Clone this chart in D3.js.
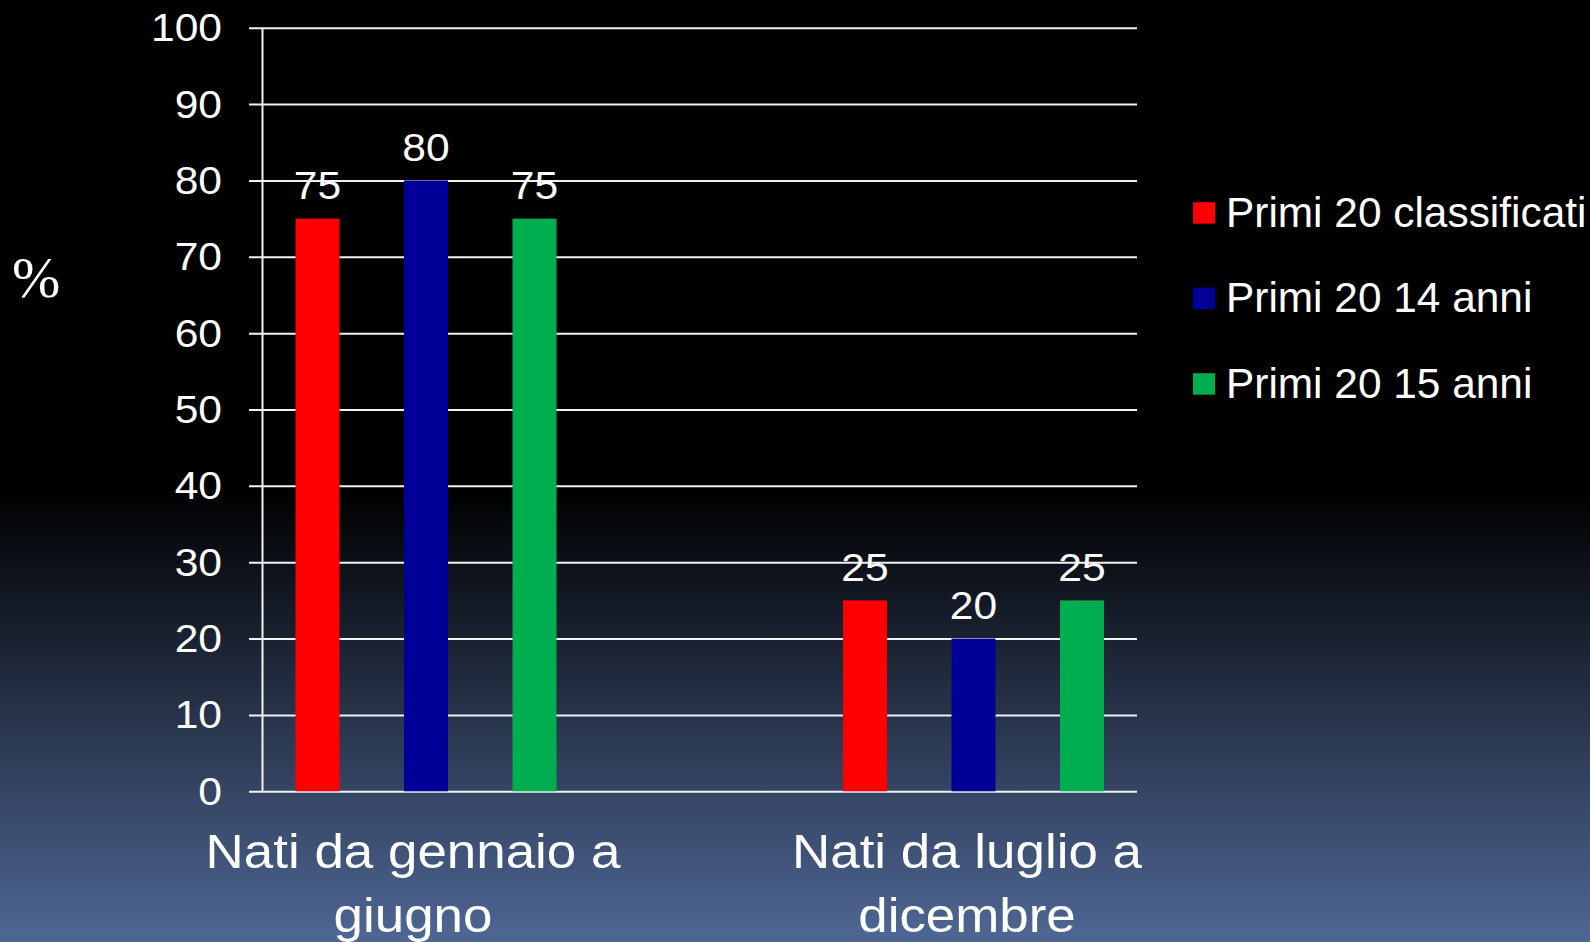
<!DOCTYPE html>
<html>
<head>
<meta charset="utf-8">
<script src="https://cdn.jsdelivr.net/npm/d3@7"></script>
<style>
  html, body { margin: 0; padding: 0; background: #000; }
  #chart { width: 1590px; height: 942px; }
  text { font-family: "Liberation Sans", Arial, sans-serif; fill: #fff; }
</style>
</head>
<body>
<div id="chart"></div>
<script>
// data
var categories = ["Nati da gennaio a giugno", "Nati da luglio a dicembre"];
var categoryLines = [["Nati da gennaio a", "giugno"], ["Nati da luglio a", "dicembre"]];
var seriesNames = ["Primi 20 classificati", "Primi 20 14 anni", "Primi 20 15 anni"];
var seriesColors = ["#ff0000", "#000099", "#00ad4f"];
var primiClassificati = [75, 25];
var primi14anni = [80, 20];
var primi15anni = [75, 25];
var yTicks = [0, 10, 20, 30, 40, 50, 60, 70, 80, 90, 100];

var seriesValues = [primiClassificati, primi14anni, primi15anni];

var W = 1590, H = 942;
var axisX = 262, plotRight = 1137;
var yTop = 27.7, yBottom = 791.3;

var svg = d3.select("#chart")
  .append("svg")
  .attr("width", W)
  .attr("height", H);

// background gradient, black on top fading to slate blue
var defs = svg.append("defs");
var grad = defs.append("linearGradient")
  .attr("id", "bg")
  .attr("x1", 0).attr("y1", 0)
  .attr("x2", 0).attr("y2", 1);
grad.append("stop").attr("offset", "0").attr("stop-color", "#000000");
grad.append("stop").attr("offset", "0.52").attr("stop-color", "#000000");
grad.append("stop").attr("offset", "1").attr("stop-color", "#4f6795");

svg.append("rect")
  .attr("width", W)
  .attr("height", H)
  .attr("fill", "url(#bg)");

var y = d3.scaleLinear()
  .domain([0, 100])
  .range([yBottom, yTop]);

// group centres sit at 426 and 973.5
var x0 = d3.scaleBand()
  .domain(categories)
  .range([152.25, 1247.25])
  .padding(0);

var x1 = d3.scaleBand()
  .domain(seriesNames)
  .range([-162.75, 162.75])
  .paddingInner(0.5945)
  .paddingOuter(0.5945 / 2);

// category labels are centred a bit differently from the bars
var xLabel = d3.scaleBand()
  .domain(categories)
  .range([136, 1244])
  .padding(0);

// y axis + gridlines
var yAxis = d3.axisLeft(y)
  .tickValues(yTicks)
  .tickSizeInner(13)
  .tickSizeOuter(0)
  .tickPadding(27);

var gy = svg.append("g")
  .attr("transform", "translate(" + axisX + ",0)")
  .call(yAxis);

gy.select(".domain")
  .attr("stroke", "#f2f2f2")
  .attr("stroke-width", 2);

gy.selectAll(".tick line")
  .attr("stroke", "#f2f2f2")
  .attr("stroke-width", 2)
  .attr("x1", plotRight - axisX);

gy.selectAll(".tick text")
  .attr("x", null)
  .attr("dy", null)
  .attr("transform", "translate(-40,13) scale(1.12,1)")
  .style("font-size", "38px")
  .style("font-family", "'Liberation Sans', Arial, sans-serif")
  .attr("fill", "#fff");

// bars
var groups = svg.selectAll("g.cat")
  .data(categories)
  .enter()
  .append("g")
  .attr("class", "cat")
  .attr("transform", function (d) {
    return "translate(" + (x0(d) + x0.bandwidth() / 2) + ",0)";
  });

groups.selectAll("rect")
  .data(function (d, i) {
    return seriesNames.map(function (s, j) {
      return { name: s, value: seriesValues[j][i], color: seriesColors[j] };
    });
  })
  .enter()
  .append("rect")
  .attr("x", function (d) { return x1(d.name); })
  .attr("width", x1.bandwidth())
  .attr("y", function (d) { return y(d.value); })
  .attr("height", function (d) { return y(0) - y(d.value); })
  .attr("fill", function (d) { return d.color; });

// value labels above the bars
groups.selectAll("text.val")
  .data(function (d, i) {
    return seriesNames.map(function (s, j) {
      return { name: s, value: seriesValues[j][i] };
    });
  })
  .enter()
  .append("text")
  .attr("class", "val")
  .attr("text-anchor", "middle")
  .attr("transform", function (d) {
    return "translate(" + (x1(d.name) + x1.bandwidth() / 2) + "," + (y(d.value) - 19.5) + ") scale(1.12,1)";
  })
  .style("font-size", "38px")
  .text(function (d) { return d.value; });

// category labels, two lines each
categories.forEach(function (c, i) {
  var cx = xLabel(c) + xLabel.bandwidth() / 2;
  categoryLines[i].forEach(function (line, k) {
    svg.append("text")
      .attr("text-anchor", "middle")
      .attr("transform", "translate(" + cx + "," + (868 + k * 63.7) + ") scale(1.08,1)")
      .style("font-size", "49px")
      .text(line);
  });
});

// y axis title
svg.append("text")
  .attr("x", 12)
  .attr("y", 297)
  .style("font-family", "'Liberation Serif', 'Times New Roman', serif")
  .style("font-size", "58px")
  .text("%");

// legend
var legend = svg.selectAll("g.legend")
  .data(seriesNames)
  .enter()
  .append("g")
  .attr("class", "legend")
  .attr("transform", function (d, i) {
    return "translate(1193," + (226.7 + i * 85.5) + ")";
  });

legend.append("rect")
  .attr("x", 0)
  .attr("y", -24.5)
  .attr("width", 22)
  .attr("height", 21.5)
  .attr("fill", function (d, i) { return seriesColors[i]; });

legend.append("text")
  .attr("x", 33)
  .attr("y", 0)
  .style("font-size", "42.4px")
  .text(function (d) { return d; });
</script>
</body>
</html>
